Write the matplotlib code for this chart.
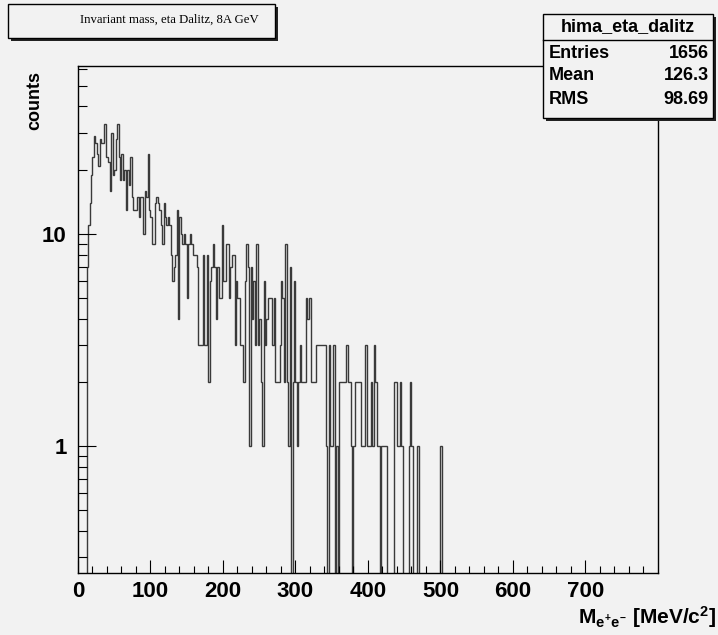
import numpy as np
import matplotlib
matplotlib.use("Agg")
import matplotlib.pyplot as plt
from matplotlib import font_manager as fm
from matplotlib.patches import Rectangle
from matplotlib.ticker import FixedLocator, NullFormatter, LogLocator

# counts per 2 MeV bin, starting at 0 MeV
counts = [
    0, 0, 0, 0, 0, 0, 7, 11, 14, 19,
    23, 29, 27, 24, 21, 28, 27, 27, 33, 23,
    23, 22, 16, 30, 19, 20, 28, 33, 23, 18,
    24, 18, 20, 13, 20, 17, 23, 15, 13, 13,
    13, 15, 12, 15, 15, 10, 16, 15, 24, 13,
    12, 9, 9, 14, 15, 14, 13, 11, 9, 14,
    12, 11, 12, 11, 8, 6, 7, 8, 13, 4,
    12, 10, 9, 10, 9, 5, 9, 10, 9, 8,
    8, 8, 7, 3, 3, 3, 8, 3, 3, 8,
    2, 6, 7, 9, 7, 4, 7, 5, 5, 11,
    6, 6, 9, 9, 5, 7, 8, 8, 3, 6,
    5, 5, 3, 3, 2, 6, 9, 7, 1, 7,
    4, 6, 3, 9, 3, 4, 2, 1, 6, 3,
    4, 5, 5, 5, 3, 5, 2, 2, 2, 3,
    6, 5, 2, 9, 2, 1, 7, 0, 2, 6,
    2, 1, 2, 3, 2, 2, 2, 5, 4, 5,
    5, 2, 2, 2, 3, 3, 3, 3, 3, 3,
    3, 1, 0, 3, 1, 1, 3, 0, 1, 0,
    2, 2, 2, 2, 2, 3, 2, 2, 1, 0,
    1, 2, 2, 2, 2, 1, 1, 1, 3, 1,
    1, 1, 2, 1, 3, 2, 1, 1, 0, 1,
    1, 1, 1, 0, 0, 0, 0, 0, 2, 2,
    1, 1, 2, 1, 0, 0, 0, 0, 1, 2,
    1, 0, 0, 0, 1, 0, 0, 0, 0, 0,
    0, 0, 0, 0, 0, 0, 0, 0, 0, 0,
    1,
]
bin_width = 2.0
x_max = 800
hist_name = "hima_eta_dalitz"
stats_labels = ["Entries", "Mean", "RMS"]
stats_values = ["1656", "126.3", "98.69"]
title = "Invariant mass, eta Dalitz, 8A GeV"

names = {f.name for f in fm.fontManager.ttflist}
narrow = "Liberation Sans Narrow" if "Liberation Sans Narrow" in names else "Liberation Sans"

bg = "#f2f2f2"
fig = plt.figure(figsize=(7.18, 6.35), dpi=100, facecolor=bg)
ax = fig.add_axes([0.1086, 0.0976, 0.8078, 0.7984], facecolor=bg)

n_bins = int(x_max / bin_width)
vals = np.zeros(n_bins)
vals[:len(counts)] = counts
edges = np.arange(n_bins + 1) * bin_width
plot_vals = np.where(vals > 0, vals, 1e-3)
ax.stairs(plot_vals, edges, color="#3a3a3a", lw=1.0, baseline=None)

ax.set_yscale("log")
ax.set_ylim(0.253, 62)
ax.set_xlim(0, x_max)

for s in ax.spines.values():
    s.set_linewidth(1.0)
    s.set_color("black")

ax.xaxis.set_major_locator(FixedLocator(np.arange(0, 800, 100)))
ax.xaxis.set_minor_locator(FixedLocator(np.arange(0, 800, 20)))
ax.yaxis.set_major_locator(FixedLocator([1, 10]))
ax.yaxis.set_minor_locator(LogLocator(base=10, subs=np.arange(2, 10)))
ax.yaxis.set_minor_formatter(NullFormatter())
ax.set_yticklabels(["1", "10"])
ax.tick_params(axis="both", which="both", direction="in", top=False, right=False)
ax.tick_params(axis="x", which="major", length=9.5, width=0.8, pad=6)
ax.tick_params(axis="x", which="minor", length=5, width=0.8)
ax.tick_params(axis="y", which="major", length=13, width=0.8, pad=8)
ax.tick_params(axis="y", which="minor", length=6.5, width=0.8)
for lab in ax.get_xticklabels() + ax.get_yticklabels():
    lab.set_fontfamily(narrow)
    lab.set_fontweight("bold")
    lab.set_fontsize(16)

# axis titles
fig.text(0.049, 1 - 100 / 635, "counts", rotation=90, ha="center", va="center",
         fontfamily="Liberation Sans", fontweight="bold", fontsize=13)
plt.rcParams["mathtext.fontset"] = "custom"
plt.rcParams["mathtext.rm"] = "Liberation Sans:bold"
plt.rcParams["mathtext.it"] = "Liberation Sans:bold"
plt.rcParams["mathtext.bf"] = "Liberation Sans:bold"
fig.text(0.997, 1 - 604 / 635, r"M$_{e^{+}e^{-}}$ [MeV/c$^{2}$]", ha="right", va="top",
         fontfamily=narrow, fontweight="bold", fontsize=15)

# title box with shadow
def box(x0, y0, w, h):
    fig.patches.append(Rectangle((x0 + 0.004, y0 - 0.005), w, h, transform=fig.transFigure,
                                 facecolor="#222222", edgecolor="none", zorder=1))
    fig.patches.append(Rectangle((x0, y0), w, h, transform=fig.transFigure,
                                 facecolor=bg, edgecolor="black", lw=1.0, zorder=2))

box(8 / 718, 1 - 38 / 635, 267 / 718, 34 / 635)
fig.text(169 / 718, 1 - 20 / 635, title, ha="center", va="center",
         fontfamily="Liberation Serif", fontsize=9.2, zorder=3)

# stats box
sx0, sx1 = 543 / 718, 713 / 718
sy_top, sy_bot = 1 - 14 / 635, 1 - 118 / 635
box(sx0, sy_bot, sx1 - sx0, sy_top - sy_bot)
fig.lines.append(plt.Line2D([sx0, sx1], [1 - 40 / 635] * 2, transform=fig.transFigure,
                            color="black", lw=1.0, zorder=3))
fig.text((sx0 + sx1) / 2, 1 - 27 / 635, hist_name, ha="center", va="center",
         fontfamily=narrow, fontweight="bold", fontsize=13, zorder=3)
for i, (lab, val) in enumerate(zip(stats_labels, stats_values)):
    yy = 1 - (53 + i * 23) / 635
    fig.text(sx0 + 0.008, yy, lab, ha="left", va="center",
             fontfamily=narrow, fontweight="bold", fontsize=13, zorder=3)
    fig.text(sx1 - 0.006, yy, val, ha="right", va="center",
             fontfamily=narrow, fontweight="bold", fontsize=13, zorder=3)

fig.savefig("out.png", dpi=100, facecolor=bg)
